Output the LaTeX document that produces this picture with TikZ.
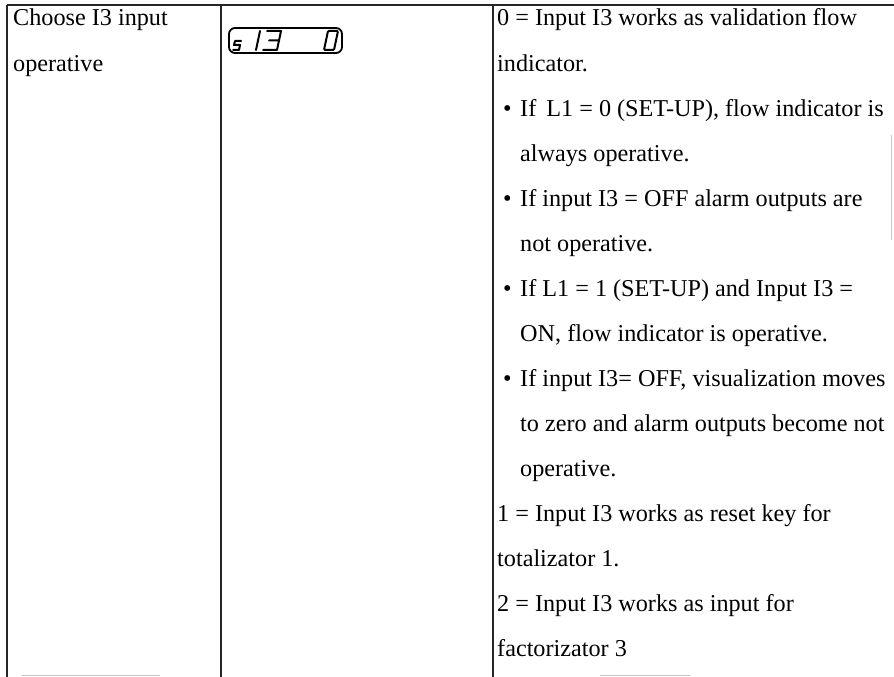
\documentclass[tikz,border=0pt]{standalone}
\usepackage{fontspec}
\setmainfont{Liberation Serif}
\begin{document}
\begin{tikzpicture}[x=1pt,y=-1pt,
  rule/.style={line width=1.1pt,black!85},
  faint/.style={line width=1pt,black!22},
  txt/.style={anchor=base west,inner sep=0pt,font=\fontsize{24.2}{29}\selectfont},
  seg/.style={line width=2pt,line cap=round,line join=round}]
\useasboundingbox (0,0) rectangle (894,677);
% table rules
\coordinate (tl) at (7,5);
\coordinate (tr) at (894,5);
\coordinate (c2t) at (221,5);
\coordinate (c3t) at (493,5);
\coordinate (bl) at (7,677);
\coordinate (c2b) at (221,677);
\coordinate (c3b) at (493,677);
\draw[rule] (tl) -- (tr);
\draw[rule] (tl) -- (bl);
\draw[rule] (c2t) -- (c2b);
\draw[rule] (c3t) -- (c3b);
% faint scan remnants
\coordinate (rf1) at (891,135);
\coordinate (rf2) at (891,240);
\draw[faint] (rf1) -- (rf2);
\coordinate (bf1) at (22,675);
\coordinate (bf2) at (160,675);
\draw[faint] (bf1) -- (bf2);
\coordinate (bf3) at (600,675);
\coordinate (bf4) at (690,675);
\draw[faint] (bf3) -- (bf4);
% column 1
\node[txt] (a1) at (13,26) {Choose I3 input};
\node[txt] (a2) at (13,71) {operative};
% display box
\draw[line width=1.8pt,rounded corners=6pt] (229,28) rectangle (342,53);
\draw[seg] (235,41) -- (241,41) (235,41) -- (234,45) -- (240,45) -- (239,50) -- (233,50);
\draw[seg] (260,31) -- (256,50);
\draw[seg] (267,31) -- (281,31) -- (277,50) -- (263,50) (269,40.5) -- (279,40.5);
\draw[seg,rounded corners=1pt] (324,50) -- (328,31) -- (338,31) -- (334,50) -- cycle;
% column 3
\def\L{497}
\def\B{503}
\def\T{520}
\node[txt] (t0) at (\L,26) {0 = Input I3 works as validation flow};
\node[txt] (t1) at (\L,71) {indicator.};
\node[txt] (b1) at (\B,116) {•};
\node[txt] (t2) at (\T,116) {If\, L1 = 0 (SET-UP), flow indicator is};
\node[txt] (t3) at (\T,161) {always operative.};
\node[txt] (b2) at (\B,206) {•};
\node[txt] (t4) at (\T,206) {If input I3 = OFF alarm outputs are};
\node[txt] (t5) at (\T,251) {not operative.};
\node[txt] (b3) at (\B,296) {•};
\node[txt] (t6) at (\T,296) {If L1 = 1 (SET-UP) and Input I3 =};
\node[txt] (t7) at (\T,341) {ON, flow indicator is operative.};
\node[txt] (b4) at (\B,386) {•};
\node[txt] (t8) at (\T,386) {If input I3= OFF, visualization moves};
\node[txt] (t9) at (\T,431) {to zero and alarm outputs become not};
\node[txt] (t10) at (\T,476) {operative.};
\node[txt] (t11) at (\L,521) {1 = Input I3 works as reset key for};
\node[txt] (t12) at (\L,566) {totalizator 1.};
\node[txt] (t13) at (\L,611) {2 = Input I3 works as input for};
\node[txt] (t14) at (\L,656) {factorizator 3};
\end{tikzpicture}
\end{document}
